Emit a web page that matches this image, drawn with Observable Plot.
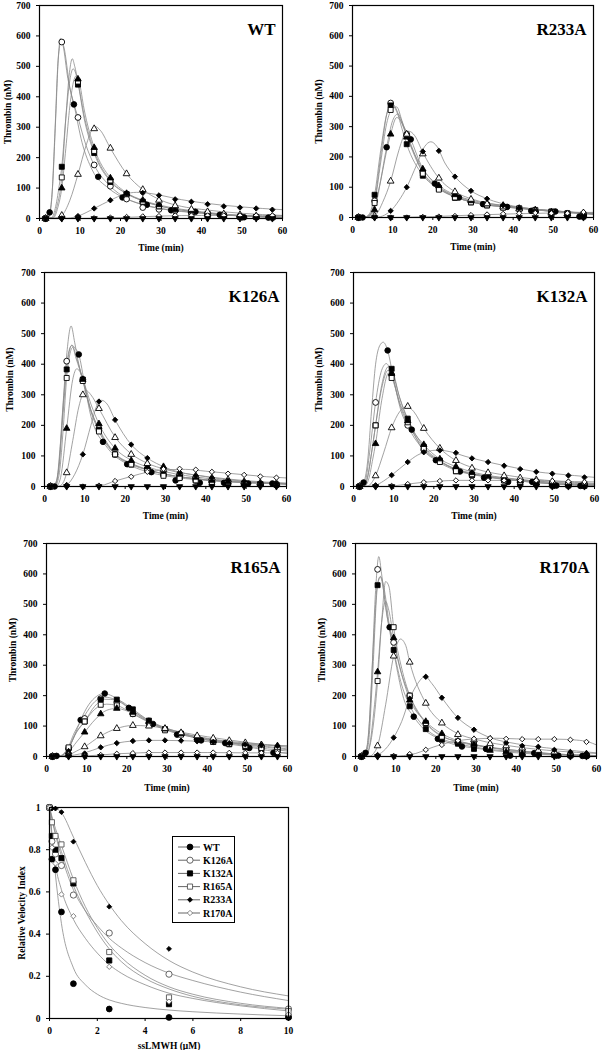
<!DOCTYPE html>
<html><head><meta charset="utf-8">
<script src="https://cdn.jsdelivr.net/npm/d3@7"></script>
<script src="https://cdn.jsdelivr.net/npm/@observablehq/plot@0.6"></script>
<style>
body{margin:0;background:#fff;}
#root{position:relative;width:602px;height:1050px;overflow:hidden;background:#fff;font-family:"Liberation Serif","Times New Roman",serif;font-weight:bold;}
#root > .p{position:absolute;}
#legend{position:absolute;border:1px solid #000;background:#fff;box-sizing:border-box;}
</style></head><body><div id="root"></div>
<script>
// ---- time grids (min) ----
const T4 = [1.5,5.5,9.5,13.5,17.5,21.5,25.5,29.5,33.5,37.5,41.5,45.5,49.5,53.5,57.5];
const T6 = [2.5,8.5,14.5,20.5,26.5,32.5,38.5,44.5,50.5,56.5];
const timeTicks = [0,10,20,30,40,50,60];
const thrombinTicks = [0,100,200,300,400,500,600,700];
// series order: filled circle, open circle, filled square, open square, filled triangle, open triangle, filled diamond, open diamond, filled down-triangle
const zero15 = [0,0,0,0,0,0,0,0,0,0,0,0,0,0,0];

// ---- WT ----
const wtMarkers = [
  [20,375,137,69,45,27,22,12,4,3],
  [0,580,332,176,106,64,36,30,25,18,12,10,6,5,4],
  [0,170,440,215,120,80,55,40,30,22,15,10,6,5,4],
  [0,135,450,222,125,80,55,40,30,22,15,10,6,5,4],
  [0,100,458,233,133,82,60,45,30,25,15,10,8,6,5],
  [0,10,145,295,231,147,95,60,42,30,22,15,12,8,6],
  [0,0,8,33,60,84,84,76,63,55,47,40,36,33,29],
  [0,0,0,1,3,5,7,8,10,10,10,10,10,10,10],
  zero15
];
const wtCurves = [
  [[0,0],[2,4],[2.5,18],[3.2,100],[4,330],[4.7,540],[5.2,592],[5.8,570],[7,460],[8.5,375],[10.5,250],[13,160],[17,100],[20.5,70],[25,48],[30,33],[40,18],[50,8],[60,3]],
  [[0,0],[2.3,4],[3,60],[3.8,280],[4.6,520],[5.4,585],[6,565],[7.5,430],[9.5,332],[11.5,240],[13.5,176],[17.5,106],[21.5,66],[25.5,45],[30,32],[40,17],[50,8],[60,4]],
  [[0,0],[3,3],[4,40],[5,120],[5.5,170],[6.5,330],[7.5,455],[8.3,492],[9,475],[9.5,445],[11,330],[13.5,215],[17.5,122],[21.5,82],[25.5,58],[30,40],[40,20],[50,9],[60,4]],
  [[0,0],[3.3,3],[4.3,40],[5.5,135],[6.5,330],[7.4,480],[8.1,525],[8.7,500],[9.5,450],[11,340],[13.5,222],[17.5,125],[21.5,82],[25.5,58],[30,40],[40,20],[50,9],[60,4]],
  [[0,0],[3.5,3],[4.5,35],[5.5,100],[6.5,230],[7.5,370],[8.5,455],[9.2,470],[9.8,450],[11,360],[13.5,233],[17.5,133],[21.5,85],[25.5,60],[30,43],[40,22],[50,10],[60,5]],
  [[0,0],[4,2],[5.5,10],[7.5,60],[9.5,145],[11.5,240],[13,293],[13.8,302],[15,290],[17.5,231],[21.5,147],[25.5,95],[30,60],[35,40],[40,30],[50,17],[60,10]],
  [[0,0],[7,1],[9.5,8],[13.5,33],[17.5,60],[21,80],[24,86],[27,83],[30,76],[35,62],[40,52],[45,44],[50,38],[55,33],[60,29]],
  [[0,0],[10,0],[20,3],[30,8],[40,10],[50,10],[60,10]],
  [[0,0],[60,0]]
];

// ---- R233A ----
const r233Markers = [
  [0,232,258,112,66,44,35,22,20,3],
  [0,55,378,275,150,100,70,52,42,35,28,20,15,12,10],
  [0,75,370,242,138,95,65,50,40,35,30,22,20,14,3],
  [0,48,355,270,145,92,66,50,40,32,30,25,18,12,10],
  [0,25,275,265,160,105,75,55,45,40,30,25,18,12,10],
  [0,5,120,275,210,130,85,60,45,35,28,22,16,12,15],
  [0,0,22,100,218,220,135,88,62,40,30,20,18,12,10],
  [0,0,0,0,2,3,5,8,10,12,14,15,14,14,18],
  zero15
];
const r233Curves = [
  [[0,0],[3,1],[4.5,10],[6.5,90],[8.5,232],[10,320],[11.3,342],[12.8,300],[14.5,258],[17,175],[20.5,112],[25,72],[30,50],[40,32],[50,20],[60,12]],
  [[0,0],[3,1],[4.3,10],[5.5,55],[7,200],[8.5,340],[9.6,378],[10.5,368],[12,320],[13.5,275],[17.5,150],[21.5,100],[25.5,72],[30,53],[40,34],[50,20],[60,12]],
  [[0,0],[3,1],[4.2,12],[5.5,75],[7,220],[8.5,340],[9.8,372],[11,350],[12.5,285],[13.5,242],[17.5,140],[21.5,95],[25.5,68],[30,50],[40,33],[50,20],[60,10]],
  [[0,0],[3.3,1],[4.5,10],[5.5,48],[7,180],[8.5,310],[10,360],[11,365],[12.3,320],[13.5,272],[17.5,148],[21.5,95],[25.5,68],[30,50],[40,32],[50,22],[60,12]],
  [[0,0],[3.5,1],[4.7,8],[5.5,25],[7,120],[8.5,220],[9.5,275],[11,330],[12,320],[13.5,268],[17.5,160],[21.5,105],[25.5,75],[30,56],[40,36],[50,22],[60,12]],
  [[0,0],[4.5,1],[6,12],[7.5,50],[9.5,120],[11.5,220],[13,275],[14,285],[15.5,270],[17.5,215],[21.5,130],[25.5,85],[30,60],[40,36],[50,22],[60,15]],
  [[0,0],[6,1],[8,8],[9.5,22],[11.5,55],[13.5,100],[16,175],[18,235],[19.5,250],[21,235],[23,180],[25.5,135],[29.5,88],[33.5,62],[40,38],[50,22],[60,12]],
  [[0,0],[10,0],[20,3],[30,8],[40,12],[50,15],[60,17]],
  [[0,0],[60,0]]
];

// ---- K126A ----
const k126Markers = [
  [0,432,146,73,47,20,12,12,10,10],
  [0,410,350,190,105,75,55,38,28,20,15,12,10,8,6],
  [0,383,350,185,105,72,55,40,30,20,15,12,10,8,6],
  [0,355,345,180,105,72,55,35,28,20,15,12,10,8,6],
  [0,190,350,205,125,85,65,65,40,30,20,15,10,8,6],
  [0,45,300,255,160,105,75,55,45,35,28,22,16,12,10],
  [0,5,105,278,218,137,93,60,45,35,28,20,16,12,10],
  [0,0,0,3,18,32,48,57,58,55,48,42,38,33,29],
  zero15
];
const k126Curves = [
  [[0,0],[2,1],[3,20],[4,150],[5,330],[6,440],[6.8,462],[7.6,452],[8.5,432],[10,330],[11.5,230],[13,175],[14.5,146],[17,105],[20.5,74],[25,50],[30,35],[40,20],[50,13],[60,9]],
  [[0,0],[2.5,2],[3.5,60],[4.5,250],[5.5,430],[6.6,525],[7.5,470],[8.5,400],[9.5,350],[11.5,250],[13.5,190],[17.5,108],[21.5,76],[25.5,56],[30,40],[40,22],[50,13],[60,8]],
  [[0,0],[2.5,2],[3.5,50],[4.5,220],[5.5,383],[6.8,462],[7.8,420],[9.5,350],[11.5,250],[13.5,186],[17.5,106],[21.5,74],[25.5,55],[30,40],[40,22],[50,13],[60,8]],
  [[0,0],[2.7,2],[3.7,45],[4.7,200],[5.5,355],[7,455],[8,420],[9.5,345],[11.5,245],[13.5,180],[17.5,105],[21.5,72],[25.5,54],[30,40],[40,22],[50,13],[60,8]],
  [[0,0],[3,2],[4,30],[5.5,190],[7,350],[8,385],[9,370],[9.5,352],[11.5,270],[13.5,205],[17.5,125],[21.5,86],[25.5,64],[30,48],[40,27],[50,15],[60,9]],
  [[0,0],[3.5,1],[4.5,10],[5.5,45],[7,150],[8.5,260],[10.2,315],[11.5,300],[13.5,255],[17.5,162],[21.5,107],[25.5,76],[30,56],[40,33],[50,19],[60,11]],
  [[0,0],[4.5,1],[5.5,5],[7.5,40],[9.5,105],[11.5,200],[13,265],[14.2,282],[15.5,270],[17.5,218],[21.5,137],[25.5,93],[30,62],[40,32],[50,17],[60,10]],
  [[0,0],[11,0],[14,3],[17.5,18],[21.5,33],[25.5,47],[30,55],[35,56],[40,50],[45,44],[50,38],[55,32],[60,28]],
  [[0,0],[60,0]]
];

// ---- K132A ----
const k132Markers = [
  [13,445,186,86,49,29,15,15,3,2],
  [0,275,365,200,120,82,55,35,30,22,18,15,12,10,8],
  [0,200,385,222,130,85,50,38,30,20,15,12,3,3,2],
  [0,200,355,210,125,80,50,40,30,20,15,12,8,6,5],
  [0,140,370,215,137,90,65,45,32,25,18,12,10,8,6],
  [0,35,192,262,190,125,85,60,45,35,28,22,16,12,10],
  [0,4,37,80,112,118,110,92,80,68,57,48,42,36,30],
  [0,0,2,8,14,18,20,20,20,20,20,20,18,16,15],
  zero15
];
const k132Curves = [
  [[0,0],[1.5,2],[2.5,13],[3.5,80],[4.5,250],[5.5,400],[6.5,460],[7.4,472],[8.5,445],[10,350],[12,240],[14.5,186],[17,125],[20.5,86],[25,55],[30,38],[40,20],[50,8],[60,3]],
  [[0,0],[2,2],[3,20],[4,110],[5.5,275],[7,380],[8.2,402],[9.5,368],[11.5,270],[13.5,200],[17.5,120],[21.5,82],[25.5,58],[30,42],[40,24],[50,14],[60,8]],
  [[0,0],[2.5,2],[3.5,30],[4.5,110],[5.5,200],[7,330],[8.7,392],[9.5,385],[11.5,290],[13.5,222],[17.5,130],[21.5,85],[25.5,55],[30,40],[40,20],[50,8],[60,2]],
  [[0,0],[2.5,2],[3.5,30],[4.5,110],[5.5,200],[7,320],[8.6,380],[9.5,358],[11.5,275],[13.5,210],[17.5,125],[21.5,82],[25.5,55],[30,40],[40,22],[50,10],[60,5]],
  [[0,0],[2.8,2],[3.8,25],[4.8,90],[5.5,140],[7,280],[8.8,372],[9.5,370],[11.5,290],[13.5,215],[17.5,137],[21.5,90],[25.5,65],[30,46],[40,25],[50,12],[60,6]],
  [[0,0],[3.5,1],[4.5,12],[5.5,35],[7.5,110],[9.5,192],[11.5,245],[13.3,262],[15,245],[17.5,190],[21.5,125],[25.5,85],[30,60],[40,33],[50,18],[60,10]],
  [[0,0],[4,1],[5.5,4],[7.5,18],[9.5,37],[13.5,80],[16,103],[18.5,115],[21,119],[24,114],[28,98],[33.5,80],[40,62],[45.5,48],[50,42],[60,30]],
  [[0,0],[8,0],[10,2],[13.5,8],[17.5,14],[21.5,18],[26,20],[35,20],[45,20],[50,18],[55,16],[60,15]],
  [[0,0],[60,0]]
];

// ---- R165A ----
const r165Markers = [
  [2,120,207,160,107,72,53,44,28,12],
  [0,25,125,190,178,140,110,90,75,62,50,42,35,28,20],
  [0,28,115,187,187,155,118,90,75,58,48,40,30,22,18],
  [0,30,115,170,168,140,110,86,72,60,48,42,35,28,20],
  [0,15,80,140,158,145,115,90,75,62,52,46,42,38,35],
  [0,5,32,68,92,102,100,92,78,68,60,52,45,38,30],
  [0,3,10,30,44,51,53,53,52,50,48,44,40,37,35],
  [0,0,2,5,9,11,13,13,13,13,13,12,12,12,12],
  zero15
];
const r165Curves = [
  [[0,0],[3,1],[5,15],[7,70],[8.5,120],[10.5,170],[12.5,198],[14.3,207],[16.5,198],[20.5,160],[25,118],[30,88],[35,68],[40,53],[45,42],[50,32],[55,20],[60,10]],
  [[0,0],[3,1],[5,20],[7,80],[9.5,135],[12,180],[14.5,195],[17,188],[21.5,150],[25.5,118],[29.5,95],[33.5,78],[37.5,65],[45,48],[50,40],[55,33],[60,25]],
  [[0,0],[3.5,1],[5.5,28],[7.5,80],[9.5,115],[12,165],[14.5,188],[17.5,186],[21.5,155],[25.5,118],[29.5,92],[33.5,75],[40,55],[45,45],[50,35],[55,25],[60,18]],
  [[0,0],[3.5,1],[5.5,30],[7.5,82],[9.5,115],[12,155],[15,172],[17.5,168],[21.5,140],[25.5,112],[29.5,88],[33.5,72],[40,56],[45,46],[50,38],[55,30],[60,22]],
  [[0,0],[4,1],[5.5,15],[7.5,48],[9.5,80],[12,120],[15,152],[17.5,158],[20,150],[25.5,115],[29.5,92],[33.5,76],[40,60],[45,50],[50,44],[55,39],[60,35]],
  [[0,0],[4,1],[5.5,5],[7.5,18],[9.5,32],[13.5,68],[17.5,92],[21.5,102],[25.5,100],[29.5,92],[33.5,80],[40,65],[45,55],[50,46],[55,38],[60,30]],
  [[0,0],[5,1],[7,5],[9.5,12],[13.5,30],[17.5,44],[21.5,51],[25.5,53],[29.5,53],[33.5,52],[40,49],[45,45],[50,41],[55,37],[60,34]],
  [[0,0],[7,0],[10,2],[13.5,5],[17.5,9],[21.5,11],[25.5,13],[30,13],[40,13],[50,12],[60,12]],
  [[0,0],[60,0]]
];

// ---- R170A ----
const r170Markers = [
  [12,425,131,58,33,25,3,11,3,2],
  [0,615,375,200,110,65,45,38,30,22,15,10,8,5,3],
  [0,563,350,165,90,55,42,25,28,20,12,8,5,3,2],
  [0,248,425,200,110,65,50,40,30,22,15,10,6,5,3],
  [0,278,390,185,115,75,50,40,20,15,10,8,6,5,3],
  [0,35,330,310,175,110,72,55,42,35,28,20,15,10,8],
  [0,5,62,190,262,193,127,88,60,45,35,32,22,15,10],
  [0,0,2,8,22,38,52,58,60,58,57,57,57,55,48],
  zero15
];
const r170Curves = [
  [[0,0],[1.5,2],[2.5,12],[3.5,120],[4.5,380],[5.4,560],[6.2,592],[7,560],[8.5,425],[10,310],[12,190],[14.5,131],[17,90],[20.5,60],[25,38],[30,27],[40,12],[50,5],[60,2]],
  [[0,0],[2,2],[3,40],[4,250],[5,545],[5.8,657],[6.5,600],[7.5,490],[9.5,375],[11.5,270],[13.5,200],[17.5,112],[21.5,68],[25.5,48],[30,36],[40,20],[50,8],[60,3]],
  [[0,0],[2.2,2],[3.2,40],[4.2,250],[5.5,563],[6.2,590],[7,545],[8,450],[9.5,350],[11.5,235],[13.5,168],[17.5,92],[21.5,58],[25.5,42],[30,30],[40,15],[50,6],[60,2]],
  [[0,0],[2.5,2],[3.5,30],[4.5,110],[5.5,248],[6.5,440],[7.5,575],[8.3,560],[9.5,425],[11.5,290],[13.5,200],[17.5,110],[21.5,66],[25.5,50],[30,38],[40,20],[50,8],[60,3]],
  [[0,0],[2.5,2],[3.5,35],[4.5,140],[5.5,278],[6.5,440],[7.5,510],[8.3,480],[9.5,390],[11.5,270],[13.5,188],[17.5,115],[21.5,75],[25.5,52],[30,38],[40,17],[50,8],[60,3]],
  [[0,0],[3.5,1],[4.5,10],[5.5,35],[7.5,170],[9.5,330],[11.2,386],[12.5,365],[13.5,310],[17.5,175],[21.5,110],[25.5,75],[30,56],[40,32],[50,18],[60,10]],
  [[0,0],[4.5,1],[5.5,5],[7.5,25],[9.5,62],[11.5,115],[13.5,190],[15.5,240],[17.3,263],[19,240],[21.5,193],[25.5,127],[29.5,88],[33.5,62],[40,42],[50,25],[60,12]],
  [[0,0],[9,0],[12,3],[15,10],[17.5,22],[21.5,40],[25.5,52],[30,58],[35,60],[40,58],[45,57],[50,57],[55,54],[58,48],[60,38]],
  [[0,0],[60,0]]
];

// ---- Relative velocity index vs ssLMWH ----
const conc = [0,0.1,0.25,0.5,1,2.5,5,10];
const mutants = ["WT","K126A","K132A","R165A","R233A","R170A"];
const rviValues = [
  [1,0.755,0.705,0.505,0.165,0.045,0.005,0.005],
  [1,0.84,0.78,0.725,0.585,0.405,0.21,0.045],
  [1,0.865,0.80,0.76,0.64,0.275,0.068,0.01],
  [1,0.93,0.865,0.825,0.655,0.315,0.1,0.035],
  [1,0.995,0.995,0.978,0.838,0.53,0.33,0.01],
  [1,0.81,0.735,0.588,0.485,0.245,0.08,0.02]
];
const fitConc = [0,0.25,0.5,1,1.5,2,2.5,3,4,5,6,8,10];
const rviFits = [
  [1,0.68,0.45,0.24,0.16,0.115,0.088,0.072,0.052,0.04,0.032,0.021,0.013],
  [1,0.87,0.77,0.61,0.51,0.44,0.38,0.335,0.265,0.215,0.18,0.125,0.085],
  [1,0.88,0.79,0.63,0.51,0.41,0.33,0.27,0.19,0.14,0.105,0.065,0.044],
  [1,0.9,0.82,0.66,0.53,0.43,0.35,0.29,0.205,0.15,0.115,0.072,0.048],
  [1,0.997,0.975,0.86,0.74,0.63,0.54,0.465,0.355,0.275,0.22,0.15,0.107],
  [1,0.73,0.61,0.47,0.38,0.31,0.255,0.215,0.16,0.12,0.095,0.06,0.036]
];
const rviTicksX = [0,2,4,6,8,10];
const rviTicksY = [0,0.2,0.4,0.6,0.8,1];

// ---- styles ----
const sqrt3 = Math.sqrt(3);
const triangleDown = {draw(ctx, size){ const y = -Math.sqrt(size/(sqrt3*3)); ctx.moveTo(0,-y*2); ctx.lineTo(-sqrt3*y,y); ctx.lineTo(sqrt3*y,y); ctx.closePath(); }};
const seriesStyle = [
  {symbol:"circle", fill:"black", r:2.8},
  {symbol:"circle", fill:"white", r:2.9},
  {symbol:"square", fill:"black", r:2.8},
  {symbol:"square", fill:"white", r:2.8},
  {symbol:"triangle", fill:"black", r:2.4},
  {symbol:"triangle", fill:"white", r:2.5},
  {symbol:"diamond2", fill:"black", r:2.4},
  {symbol:"diamond2", fill:"white", r:2.4},
  {symbol:triangleDown, fill:"black", r:2.3}
];
const mutantStyle = [
  {symbol:"circle", fill:"black", stroke:"black", r:2.9},
  {symbol:"circle", fill:"white", stroke:"#555", r:3.1},
  {symbol:"square", fill:"black", stroke:"black", r:2.9},
  {symbol:"square", fill:"white", stroke:"#555", r:2.9},
  {symbol:"diamond2", fill:"black", stroke:"black", r:2.2},
  {symbol:"diamond2", fill:"white", stroke:"#777", r:2.4}
];
const curveColor = "#8a8a8a";
const FONT = "'Liberation Serif','Times New Roman',serif";

const root = document.getElementById("root");

function place(el, left, top){ el.classList.add("p"); el.style.left = left+"px"; el.style.top = top+"px"; root.appendChild(el); }

const ML = 42, MR = 6, MT = 6, MB = 40;

function thrombinPanel(name, markers, curves, fl, fr, ft, fb, yTitleX, xTitleY){
  const marks = [];
  curves.forEach(c => marks.push(Plot.line(c, {x: d=>d[0], y: d=>d[1], curve:"monotone-x", stroke: curveColor, strokeWidth: 0.8})));
  markers.forEach((vals, i) => {
    const times = i === 0 ? T6 : T4;
    const pts = vals.map((v, j) => ({t: times[j], v}));
    const s = seriesStyle[i];
    marks.push(Plot.dot(pts, {x:"t", y:"v", symbol: s.symbol, fill: s.fill, stroke:"black", strokeWidth:0.9, r: s.r}));
  });
  marks.push(Plot.frame({stroke:"black", strokeWidth:1.2}));
  marks.push(Plot.text([name], {frameAnchor:"top-right", dx:-7, dy:17, fontSize:17, fontWeight:"bold", fill:"black"}));
  const chart = Plot.plot({
    width: (fr-fl)+ML+MR, height: (fb-ft)+MT+MB,
    marginLeft: ML, marginRight: MR, marginTop: MT, marginBottom: MB,
    style: {fontFamily: FONT, fontWeight:"bold", fontSize:"9.5px", background:"transparent", color:"black", overflow:"visible"},
    x: {domain:[0,60], ticks: timeTicks, tickSize:3, label:"Time (min)", labelAnchor:"center", labelArrow:"none", labelOffset: xTitleY - fb},
    y: {domain:[0,700], ticks: thrombinTicks, tickSize:3, label:"Thrombin (nM)", labelAnchor:"center", labelArrow:"none", labelOffset: fl - yTitleX},
    marks
  });
  place(chart, fl-ML, ft-MT);
}

thrombinPanel("WT", wtMarkers, wtCurves, 39, 282, 5, 218, 4, 250);
thrombinPanel("R233A", r233Markers, r233Curves, 352, 593, 5, 217, 315, 249);
thrombinPanel("K126A", k126Markers, k126Curves, 44, 286, 272, 486, 6, 518);
thrombinPanel("K132A", k132Markers, k132Curves, 353, 594, 272, 486, 315, 518);
thrombinPanel("R165A", r165Markers, r165Curves, 46, 287, 543, 756, 9, 790);
thrombinPanel("R170A", r170Markers, r170Curves, 355, 596, 543, 756, 318, 790);

// bottom panel
(function(){
  const fl=49, fr=288, ft=807, fb=1018;
  const marks = [];
  rviFits.forEach(f => marks.push(Plot.line(f.map((v,j)=>({c: fitConc[j], v})), {x:"c", y:"v", curve:"monotone-x", stroke: curveColor, strokeWidth:0.8})));
  rviValues.forEach((vals,i) => {
    const s = mutantStyle[i];
    marks.push(Plot.dot(vals.map((v,j)=>({c: conc[j], v})), {x:"c", y:"v", symbol:s.symbol, fill:s.fill, stroke:s.stroke, strokeWidth:0.9, r:s.r}));
  });
  marks.push(Plot.frame({stroke:"black", strokeWidth:1.2}));
  const chart = Plot.plot({
    width:(fr-fl)+ML+MR, height:(fb-ft)+MT+MB,
    marginLeft: ML, marginRight: MR, marginTop: MT, marginBottom: MB,
    style: {fontFamily: FONT, fontWeight:"bold", fontSize:"9.5px", background:"transparent", color:"black", overflow:"visible"},
    x: {domain:[0,10], ticks: rviTicksX, tickSize:3, label:"ssLMWH (μM)", labelAnchor:"center", labelArrow:"none", labelOffset: 30},
    y: {domain:[0,1], ticks: rviTicksY, tickFormat: d3.format("~g"), tickSize:3, label:"Relative Velocity Index", labelAnchor:"center", labelArrow:"none", labelOffset: 31},
    marks
  });
  place(chart, fl-ML, ft-MT);

  // legend
  const lg = document.createElement("div");
  lg.id = "legend";
  const LX = 172, LY = 836, LW = 63, LH = 87, rowH = 13.2;
  lg.style.left = LX+"px"; lg.style.top = LY+"px"; lg.style.width = LW+"px"; lg.style.height = LH+"px";
  const ns = "http://www.w3.org/2000/svg";
  const svg = document.createElementNS(ns, "svg");
  svg.setAttribute("width", LW-2); svg.setAttribute("height", LH-2);
  svg.style.position = "absolute"; svg.style.left = "0"; svg.style.top = "0";
  const symMap = {circle: d3.symbolCircle, square: d3.symbolSquare, diamond2: d3.symbolDiamond2};
  mutants.forEach((m,i) => {
    const y = 10 + i*rowH;
    const line = document.createElementNS(ns, "line");
    line.setAttribute("x1", 5); line.setAttribute("x2", 27); line.setAttribute("y1", y); line.setAttribute("y2", y);
    line.setAttribute("stroke", "#555"); line.setAttribute("stroke-width", 0.9);
    svg.appendChild(line);
    const s = mutantStyle[i];
    const p = document.createElementNS(ns, "path");
    p.setAttribute("d", d3.symbol(symMap[s.symbol], Math.PI*s.r*s.r)());
    p.setAttribute("transform", `translate(17,${y})`);
    p.setAttribute("fill", s.fill); p.setAttribute("stroke", s.stroke); p.setAttribute("stroke-width", 0.9);
    svg.appendChild(p);
    const t = document.createElementNS(ns, "text");
    t.setAttribute("x", 30); t.setAttribute("y", y); t.setAttribute("dy", "0.35em");
    t.setAttribute("font-family", FONT); t.setAttribute("font-weight", "bold"); t.setAttribute("font-size", "10px");
    t.textContent = m;
    svg.appendChild(t);
  });
  lg.appendChild(svg);
  root.appendChild(lg);
})();
</script>
</body></html>
